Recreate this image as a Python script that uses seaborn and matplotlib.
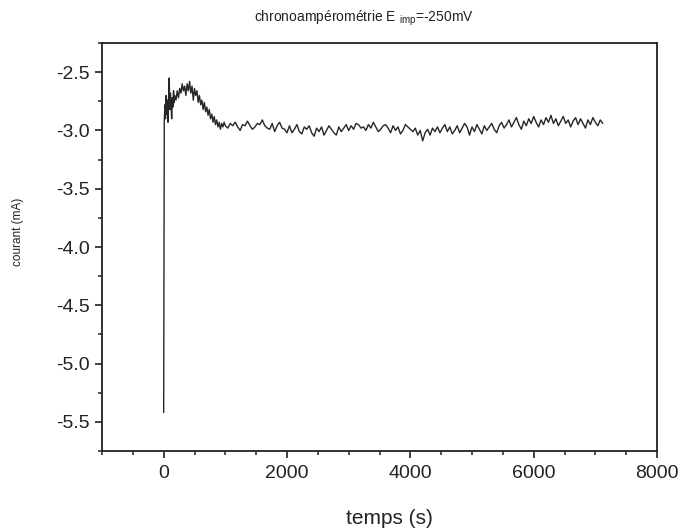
import matplotlib
matplotlib.use("Agg")
import matplotlib.pyplot as plt
from matplotlib.ticker import MultipleLocator, FormatStrFormatter
import pandas as pd
import seaborn as sns

# ---- data (time in s, current in mA) ----
time_early = [0, 10, 20, 30, 40, 50, 60, 70, 80, 90, 100, 110, 120, 130, 140, 150, 160, 170, 180,
              200, 220, 240, 260, 280, 300, 320, 340, 360, 380, 400, 420, 440, 460, 480, 500,
              520, 540, 560, 580, 600, 620, 640, 660, 680, 700, 720, 740, 760, 780, 800,
              820, 840, 860, 880, 900, 920, 940, 960, 980, 1000]
current_early = [-5.42, -2.92, -2.78, -2.90, -2.70, -2.86, -2.74, -2.93, -2.72, -2.55, -2.82, -2.68,
                 -2.78, -2.90, -2.72, -2.80, -2.66, -2.76, -2.70,
                 -2.74, -2.66, -2.72, -2.64, -2.68, -2.60, -2.66, -2.62, -2.70, -2.60, -2.66,
                 -2.58, -2.68, -2.62, -2.74, -2.64, -2.70, -2.66, -2.76, -2.70, -2.78,
                 -2.74, -2.82, -2.76, -2.84, -2.80, -2.87, -2.82, -2.90, -2.86, -2.93,
                 -2.88, -2.95, -2.91, -2.97, -2.93, -2.99, -2.94, -2.97, -2.93, -2.96]

time_a = [1040, 1080, 1120, 1160, 1200, 1240, 1280, 1320, 1360, 1400, 1440, 1480, 1520,
          1560, 1600, 1640, 1680, 1720, 1760, 1800, 1840, 1880, 1920, 1960, 2000]
current_a = [-2.98, -2.94, -2.96, -2.93, -2.97, -3.00, -2.95, -2.96, -2.92, -2.96, -2.99, -2.97,
             -2.94, -2.95, -2.91, -2.96, -2.98, -2.99, -2.94, -3.01, -2.96, -2.93, -2.98, -2.99, -3.02]

time_b = [2040, 2080, 2120, 2160, 2200, 2240, 2280, 2320, 2360, 2400, 2440, 2480, 2520,
          2560, 2600, 2640, 2680, 2720, 2760, 2800, 2840, 2880, 2920, 2960, 3000]
current_b = [-2.96, -3.02, -2.99, -2.95, -3.01, -3.03, -2.97, -2.99, -2.96, -3.02, -3.05, -2.98,
             -3.01, -2.97, -3.04, -3.00, -2.96, -2.99, -3.02, -3.04, -2.97, -3.01, -2.98, -2.95, -3.00]

time_c = [3040, 3080, 3120, 3160, 3200, 3240, 3280, 3320, 3360, 3400, 3440, 3480, 3520,
          3560, 3600, 3640, 3680, 3720, 3760, 3800, 3840, 3880, 3920, 3960, 4000]
current_c = [-2.96, -2.99, -2.94, -2.95, -2.98, -2.97, -3.00, -2.95, -2.98, -2.93, -2.97, -3.01,
             -2.99, -2.96, -2.95, -2.98, -3.02, -2.96, -3.00, -2.97, -3.03, -3.00, -2.95, -2.97, -2.99]

time_d = [4040, 4080, 4120, 4160, 4200, 4240, 4280, 4320, 4360, 4400]
current_d = [-3.01, -2.98, -3.04, -3.00, -3.09, -3.02, -2.99, -3.04, -2.98, -3.01]

time_e = [4440, 4480, 4520, 4560, 4600, 4640, 4680, 4720, 4760, 4800, 4840, 4880, 4920, 4960,
          5000, 5040, 5080, 5120, 5160, 5200, 5240, 5280, 5320, 5360, 5400, 5440, 5480, 5520]
current_e = [-2.97, -3.02, -2.98, -2.95, -3.01, -2.97, -3.03, -3.00, -2.96, -3.02, -2.98, -2.94,
             -2.97, -3.04, -2.97, -3.01, -2.95, -2.99, -3.03, -2.96, -3.00, -2.97, -2.94, -2.99,
             -3.02, -2.96, -2.93, -2.98]

time_f = [5560, 5600, 5640, 5680, 5720, 5760, 5800, 5840, 5880, 5920, 5960, 6000, 6040, 6080,
          6120, 6160, 6200, 6240, 6280, 6320, 6360, 6400, 6440, 6480, 6520, 6560, 6600, 6640,
          6680, 6720, 6760, 6800, 6840, 6880, 6920, 6960, 7000, 7040, 7080, 7120]
current_f = [-2.95, -2.91, -2.97, -2.93, -2.89, -2.95, -2.99, -2.92, -2.96, -2.90, -2.94, -2.88,
             -2.93, -2.97, -2.91, -2.95, -2.89, -2.93, -2.87, -2.94, -2.90, -2.96, -2.92, -2.88,
             -2.94, -2.91, -2.97, -2.92, -2.89, -2.95, -2.90, -2.94, -2.98, -2.91, -2.95, -2.89,
             -2.93, -2.96, -2.91, -2.94]

x_ticks = [0, 2000, 4000, 6000, 8000]
y_ticks = [-2.5, -3.0, -3.5, -4.0, -4.5, -5.0, -5.5]

title_text = "chronoampérométrie E $_{\\mathregular{imp}}$=-250mV"
x_label = "temps (s)"
y_label = "courant (mA)"

# ---- build table ----
time_all = time_early + time_a + time_b + time_c + time_d + time_e + time_f
current_all = current_early + current_a + current_b + current_c + current_d + current_e + current_f
df = pd.DataFrame({"temps": time_all, "courant": current_all})

sns.set_theme(style="ticks")
plt.rcParams["font.family"] = ["Liberation Sans", "DejaVu Sans"]
plt.rcParams["mathtext.fontset"] = "custom"
plt.rcParams["mathtext.rm"] = "Liberation Sans"

fig = plt.figure(figsize=(6.85, 5.30), dpi=100)
ax = fig.add_axes([102 / 685, 1 - 451 / 530, 555 / 685, 408 / 530])

sns.lineplot(data=df, x="temps", y="courant", ax=ax, color="#262626",
             linewidth=1.0, estimator=None, sort=False)

ax.set_xlim(-1000, 8000)
ax.set_ylim(-5.75, -2.25)
ax.set_xticks(x_ticks)
ax.set_yticks(y_ticks)
ax.xaxis.set_minor_locator(MultipleLocator(500))
ax.yaxis.set_minor_locator(MultipleLocator(0.25))
ax.yaxis.set_major_formatter(FormatStrFormatter("%.1f"))
ax.set_xlabel("")
ax.set_ylabel("")

for s in ax.spines.values():
    s.set_visible(True)
    s.set_color("#222222")
    s.set_linewidth(1.3)

ax.tick_params(axis="both", which="major", direction="out", length=5, width=1.2,
               labelsize=14, colors="#222222", top=False, right=False)
ax.tick_params(axis="both", which="minor", direction="out", length=3, width=1.1,
               colors="#222222", top=False, right=False)
ax.tick_params(axis="x", which="major", pad=5)

fig.text(364 / 685, 1 - 18 / 530, title_text, ha="center", va="center", fontsize=10,
         color="#222222")
fig.text(389 / 685, 1 - 518 / 530, x_label, ha="center", va="center", fontsize=15,
         color="#222222")
fig.text(18 / 685, 1 - 232 / 530, y_label, ha="center", va="center", fontsize=8.5,
         rotation=90, color="#222222")

fig.savefig("out.png", dpi=100, facecolor="white")
